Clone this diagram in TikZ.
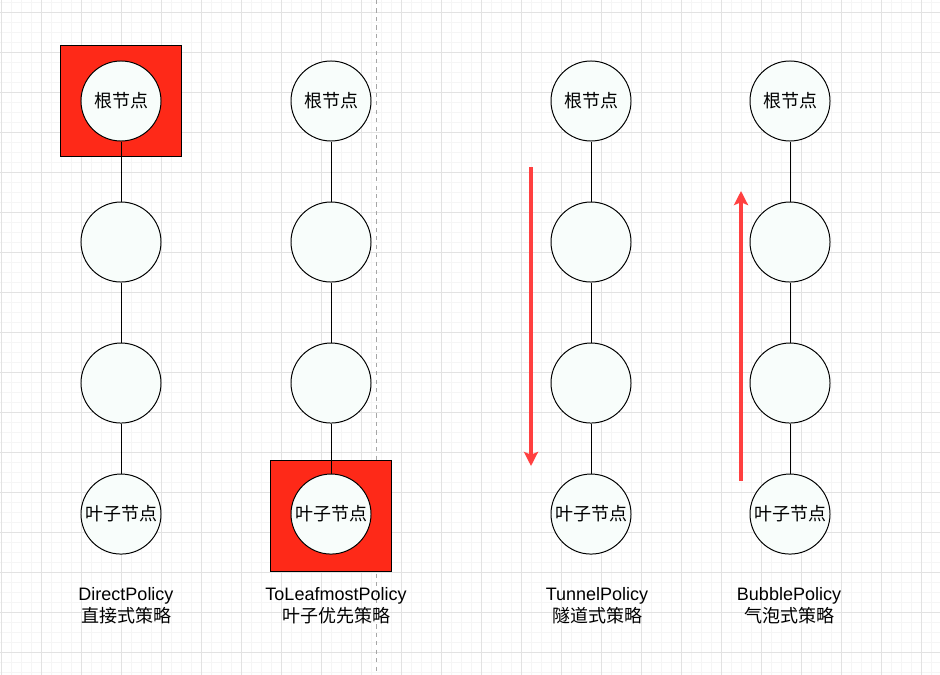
\documentclass[tikz,border=0pt]{standalone}
\usepackage{fontspec}
\setmainfont{Liberation Sans}
\newfontfamily\cjk{Noto Sans CJK SC}
\usetikzlibrary{arrows.meta,positioning}

\definecolor{nodefill}{RGB}{248,253,251}
\definecolor{pickred}{RGB}{254,41,24}
\definecolor{flowred}{RGB}{255,64,64}
\definecolor{gridminor}{RGB}{245,245,245}
\definecolor{gridmajor}{RGB}{226,226,226}

\begin{document}
\begin{tikzpicture}[x=0.025cm,y=-0.025cm,line width=0.7pt,
  treenode/.style={circle,draw,fill=nodefill,minimum size=2cm,inner sep=0pt,
    font=\cjk\fontsize{12.8}{15}\selectfont},
  picked/.style={draw,fill=pickred,minimum width=3cm,minimum height=2.75cm},
  flow/.style={draw=flowred,line width=2.2pt,-{Stealth[length=10pt,width=10pt,inset=2pt]}},
  caption/.style={align=center,font=\fontsize{12.8}{15.6}\selectfont}]
 \useasboundingbox (0,0) rectangle (940,675);

 % background grid
 \foreach \gx in {1,11,...,931} \draw[gridminor,line width=0.5pt] (\gx,0) -- (\gx,675);
 \foreach \gy in {2,12,...,672} \draw[gridminor,line width=0.5pt] (0,\gy) -- (940,\gy);
 \foreach \gx in {1,41,...,921} \draw[gridmajor,line width=0.6pt] (\gx,0) -- (\gx,675);
 \foreach \gy in {12,52,...,652} \draw[gridmajor,line width=0.6pt] (0,\gy) -- (940,\gy);
 \draw[gray!70,line width=0.6pt,dash pattern=on 3pt off 3pt] (376,0) -- (376,675);

 % highlighted nodes
 \node[picked] (sel1) at (121,101) {};
 \node[picked] (sel2) at (331,516) {};

 % DirectPolicy
 \node[treenode] (a1) at (121,101)    {根节点};
 \node[treenode] (a2) [below=1.5cm of a1] {};
 \node[treenode] (a3) [below=1.5cm of a2] {};
 \node[treenode] (a4) [below=1.25cm of a3] {叶子节点};

 % ToLeafmostPolicy
 \node[treenode] (b1) at (331,101)    {根节点};
 \node[treenode] (b2) [below=1.5cm of b1] {};
 \node[treenode] (b3) [below=1.5cm of b2] {};
 \node[treenode] (b4) [below=1.25cm of b3] {叶子节点};

 % TunnelPolicy
 \node[treenode] (c1) at (591,101)    {根节点};
 \node[treenode] (c2) [below=1.5cm of c1] {};
 \node[treenode] (c3) [below=1.5cm of c2] {};
 \node[treenode] (c4) [below=1.25cm of c3] {叶子节点};

 % BubblePolicy
 \node[treenode] (d1) at (790,101)    {根节点};
 \node[treenode] (d2) [below=1.5cm of d1] {};
 \node[treenode] (d3) [below=1.5cm of d2] {};
 \node[treenode] (d4) [below=1.25cm of d3] {叶子节点};

 \draw (a1) -- (a2) (a2) -- (a3) (a3) -- (a4)
       (b1) -- (b2) (b2) -- (b3) (b3) -- (b4)
       (c1) -- (c2) (c2) -- (c3) (c3) -- (c4)
       (d1) -- (d2) (d2) -- (d3) (d3) -- (d4);

 % direction of search
 \coordinate (tunStart) at (531,167);
 \coordinate (tunEnd)   at (531,466);
 \coordinate (bubStart) at (741,481);
 \coordinate (bubEnd)   at (741,191);
 \path[flow] (tunStart) -- (tunEnd);
 \path[flow] (bubStart) -- (bubEnd);

 \node[caption] (capA) at (126,606) {DirectPolicy\\{\cjk 直接式策略}};
 \node[caption] (capB) at (336,606) {ToLeafmostPolicy\\{\cjk 叶子优先策略}};
 \node[caption] (capC) at (597,606) {TunnelPolicy\\{\cjk 隧道式策略}};
 \node[caption] (capD) at (789,606) {BubblePolicy\\{\cjk 气泡式策略}};
\end{tikzpicture}
\end{document}
